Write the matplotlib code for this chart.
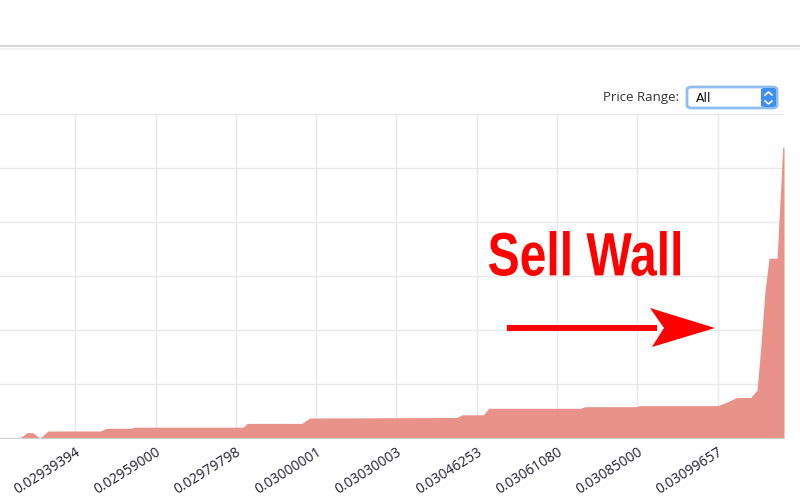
import matplotlib
matplotlib.use("Agg")
import matplotlib.pyplot as plt
from matplotlib.patches import FancyBboxPatch, Polygon, Rectangle, PathPatch
from matplotlib.lines import Line2D
from matplotlib.textpath import TextPath
from matplotlib.font_manager import FontProperties
from matplotlib.transforms import Affine2D

# order book depth (sell side), x = level index, 10 levels between ticks
level = [0.6, 3.1, 4.0, 4.7, 5.6, 6.6, 13.1, 13.9, 16.8, 17.4, 30.9, 31.4,
         38.2, 39.2, 57.5, 58.2, 60.8, 61.5, 72.9, 73.5, 79.7, 80.3, 90.0,
         90.9, 92.4, 94.1, 94.9, 95.3, 95.9, 96.4, 97.4, 98.1, 98.26]
depth = [0, 0, 10, 10, 0, 13, 13, 18, 18, 20, 20, 27,
         27, 37, 38, 43, 43, 55, 55, 58, 58, 60, 60,
         65, 75, 75, 89, 157, 274, 333, 333, 539, 539]

tick_levels = [10, 20, 30, 40, 50, 60, 70, 80, 90]
tick_labels = ["0.02939394", "0.02959000", "0.02979798", "0.03000001",
               "0.03030003", "0.03046253", "0.03061080", "0.03085000",
               "0.03099657"]

W, H = 800, 500
fig = plt.figure(figsize=(8, 5), dpi=100)


def px(x, y):
    return x / W, 1 - y / H


ax = fig.add_axes([0, 62 / H, 784 / W, 324 / H])
ax.fill_between(level, depth, 0, color="#e9928a", lw=0)
ax.set_xlim(0.62, 98.26)
ax.set_ylim(0, 600)
ax.set_xticks(tick_levels)
ax.set_xticklabels(tick_labels, rotation=32, ha="right", rotation_mode="anchor",
                   family="Open Sans", fontsize=10, color="#1e1e30")
ax.set_yticks(range(0, 601, 100))
ax.set_yticklabels([])
ax.tick_params(length=0, pad=5)
ax.grid(True, color="#e8e8e8", lw=1)
ax.set_axisbelow(True)
for s in ["left", "right", "top"]:
    ax.spines[s].set_visible(False)
ax.spines["bottom"].set_color("#d0d0d0")

# header line
fig.add_artist(Line2D([0, 1], [1 - 46 / H] * 2, color="#d6d6d6", lw=1.5))
fig.add_artist(Line2D([0, 1], [1 - 49 / H] * 2, color="#f2f2f2", lw=1.5))

# price range selector
fig.text(*px(603, 98), "Price Range:", family="Open Sans", fontsize=9.5,
         color="#333333", va="center")
x0, y0 = px(687, 108)
box = FancyBboxPatch((x0, y0), 90 / W, 21 / H, boxstyle="round,pad=0,rounding_size=0.006",
                     transform=fig.transFigure, fc="white", ec="#8fbdf0", lw=2)
fig.add_artist(box)
bx, by = px(761, 107)
fig.add_artist(FancyBboxPatch((bx, by), 15 / W, 19 / H,
                              boxstyle="round,pad=0,rounding_size=0.004",
                              transform=fig.transFigure, fc="#3d8ef2", ec="none"))
fig.text(*px(696, 98), "All", family="DejaVu Sans", fontsize=9, color="#111111",
         va="center")
for yy, d in [(95, -3), (101, 3)]:
    xs = [765 / W, 768.5 / W, 772 / W]
    ys = [1 - yy / H, 1 - (yy + d) / H, 1 - yy / H]
    fig.add_artist(Line2D(xs, ys, color="white", lw=1.2))

# "Sell Wall" squeezed like a narrow bold face
tp = TextPath((0, 0), "Sell Wall", size=50,
              prop=FontProperties(family="Liberation Sans", weight="bold"))
ext = tp.get_extents()
sx = (680 - 489) / ext.width
sy = (276 - 231) / ext.height
tr = (Affine2D().translate(-ext.x0, -ext.y0).scale(sx, sy)
      .translate(489, H - 276).scale(1 / W, 1 / H) + fig.transFigure)
fig.add_artist(PathPatch(tp, transform=tr, fc="#ff0000", ec="none"))

fig.add_artist(Rectangle(px(507, 331), 150 / W, 6 / H, transform=fig.transFigure,
                         fc="#ff0000", ec="none"))
head = [px(715, 328), px(650, 308), px(664, 328), px(652, 347)]
fig.add_artist(Polygon(head, closed=True, transform=fig.transFigure,
                       fc="#ff0000", ec="none"))

fig.savefig("out.png", dpi=100)
